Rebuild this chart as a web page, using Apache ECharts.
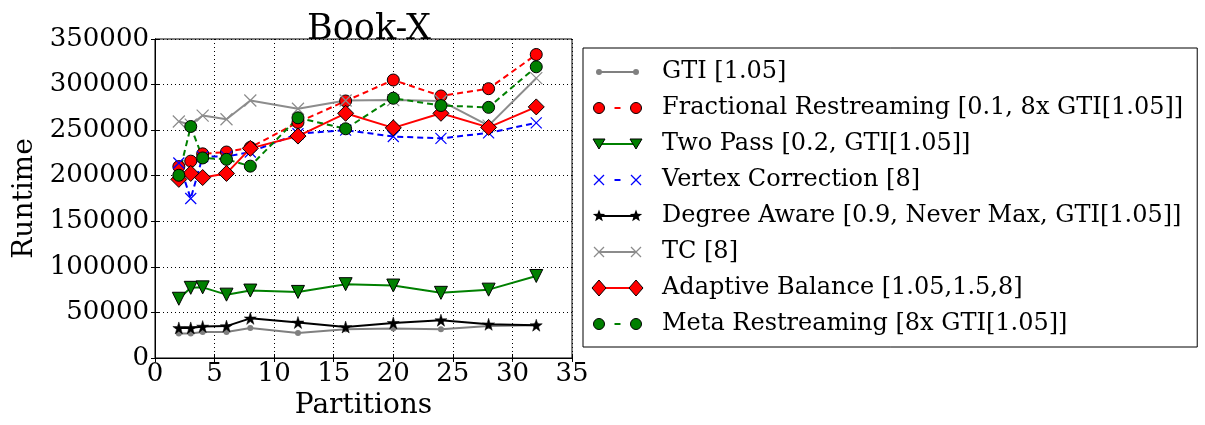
<!DOCTYPE html>
<html>
<head>
<meta charset="utf-8">
<script src="https://cdn.jsdelivr.net/npm/echarts@6/dist/echarts.min.js"></script>
<style>html,body{margin:0;padding:0;background:#fff}#c{width:1205px;height:425px}</style>
</head>
<body>
<div id="c"></div>
<script>
const partitions = [2, 3, 4, 6, 8, 12, 16, 20, 24, 28, 32];
const gti = [27000, 27000, 28500, 28500, 33000, 27500, 31500, 32500, 31500, 35000, 36000];
const fractional = [210000, 216000, 224000, 226000, 231000, 258500, 282000, 305000, 287500, 295500, 333000];
const twoPass = [65000, 77000, 77500, 69500, 74000, 72500, 81000, 79500, 71500, 75000, 90000];
const vertexCorr = [214000, 175000, 221000, 221000, 226000, 246000, 250000, 243000, 241000, 247000, 258000];
const degreeAware = [33000, 33000, 34500, 35000, 43500, 39000, 34000, 38500, 41500, 37000, 36000];
const tc = [259500, 256000, 266000, 262000, 282500, 273500, 282500, 283000, 282000, 255000, 307000];
const adaptive = [196000, 202500, 198000, 202500, 230000, 243500, 268500, 252500, 268500, 253000, 275500];
const meta = [200500, 254000, 219500, 218000, 210500, 263500, 251500, 285000, 277000, 275000, 319500];
const names = [
  'GTI [1.05]',
  'Fractional Restreaming [0.1, 8x GTI[1.05]]',
  'Two Pass [0.2, GTI[1.05]]',
  'Vertex Correction [8]',
  'Degree Aware [0.9, Never Max, GTI[1.05]]',
  'TC [8]',
  'Adaptive Balance [1.05,1.5,8]',
  'Meta Restreaming [8x GTI[1.05]]'
];

const FONT = '"DejaVu Serif", serif';
const STAR = 'path://M50,0L61,35L98,35L68,57L79,91L50,70L21,91L32,57L2,35L39,35Z';
const XMARK = 'path://M0,0L10,10M0,10L10,0';
const TRI = 'path://M0,0L10,0L5,9Z';
const pts = arr => partitions.map((p, i) => [p, arr[i]]);

// style table: [color, kind, plotSize, dashed]
const styles = [
  ['#808080', 'dot', 6, false],
  ['#ff0000', 'circle', 12, true],
  ['#008000', 'tri', 13, false],
  ['#0000ff', 'x', 11, true],
  ['#000000', 'star', 12, false],
  ['#8c8c8c', 'x', 12, false],
  ['#ff0000', 'diamond', 16, false],
  ['#008000', 'circle', 12, true]
];
const dataArrays = [gti, fractional, twoPass, vertexCorr, degreeAware, tc, adaptive, meta];

function seriesFor(i) {
  const [color, kind, size, dashed] = styles[i];
  let symbol = 'circle', border = '#000', bw = 1;
  if (kind === 'dot') { border = color; bw = 0; }
  if (kind === 'tri') symbol = TRI;
  if (kind === 'x') { symbol = XMARK; border = color; bw = 1.2; }
  if (kind === 'star') { symbol = STAR; bw = 0.5; }
  if (kind === 'diamond') symbol = 'diamond';
  return {
    name: names[i], type: 'line', data: pts(dataArrays[i]),
    symbol: symbol, symbolSize: size, showSymbol: true,
    lineStyle: {color: color, width: 2, type: dashed ? [6, 4] : 'solid'},
    itemStyle: {color: color, borderColor: border, borderWidth: bw},
    emphasis: {disabled: true},
    animation: false
  };
}

// legend handle drawings (matplotlib-style: two markers joined by a line)
function markerGraphics(kind, color, cx, cy) {
  const edge = {stroke: '#000', lineWidth: 1};
  if (kind === 'dot') return [{type: 'circle', shape: {cx, cy, r: 3}, style: {fill: color}}];
  if (kind === 'circle') return [{type: 'circle', shape: {cx, cy, r: 5.5}, style: Object.assign({fill: color}, edge)}];
  if (kind === 'tri') return [{type: 'polygon', shape: {points: [[cx - 6, cy - 5], [cx + 6, cy - 5], [cx, cy + 5]]}, style: Object.assign({fill: color}, edge)}];
  if (kind === 'diamond') return [{type: 'polygon', shape: {points: [[cx, cy - 8], [cx + 7, cy], [cx, cy + 8], [cx - 7, cy]]}, style: Object.assign({fill: color}, edge)}];
  if (kind === 'star') {
    const p = [];
    for (let k = 0; k < 10; k++) {
      const r = k % 2 === 0 ? 6.5 : 2.7;
      const a = -Math.PI / 2 + k * Math.PI / 5;
      p.push([cx + r * Math.cos(a), cy + r * Math.sin(a)]);
    }
    return [{type: 'polygon', shape: {points: p}, style: {fill: color}}];
  }
  if (kind === 'x') return [
    {type: 'line', shape: {x1: cx - 5, y1: cy - 5, x2: cx + 5, y2: cy + 5}, style: {stroke: color, lineWidth: 1.2}},
    {type: 'line', shape: {x1: cx - 5, y1: cy + 5, x2: cx + 5, y2: cy - 5}, style: {stroke: color, lineWidth: 1.2}}
  ];
}
const legendGraphics = [];
styles.forEach(([color, kind, size, dashed], i) => {
  const cy = 72 + 36 * i, x1 = 599, x2 = 636;
  const ln = dashed
    ? {type: 'line', shape: {x1: 614.5, y1: cy, x2: 620.5, y2: cy}, style: {stroke: color, lineWidth: 2}}
    : {type: 'line', shape: {x1: x1, y1: cy, x2: x2, y2: cy}, style: {stroke: color, lineWidth: 2}};
  legendGraphics.push(Object.assign(ln, {z: 100}));
  markerGraphics(kind, color, x1, cy).concat(markerGraphics(kind, color, x2, cy))
    .forEach(g => legendGraphics.push(Object.assign(g, {z: 101})));
});

const chart = echarts.init(document.getElementById('c'));
const axisCommon = {
  axisLine: {show: true, lineStyle: {color: '#000', width: 1}},
  axisTick: {show: true, inside: true, length: 4, lineStyle: {color: '#000'}},
  splitLine: {show: false}
};
chart.setOption({
  backgroundColor: '#fff',
  animation: false,
  title: {
    text: 'Book-X', left: 364, top: 7, textAlign: 'center',
    textStyle: {fontFamily: FONT, fontSize: 35, fontWeight: 'normal', color: '#000'}
  },
  legend: {
    orient: 'vertical', left: 583, top: 48,
    padding: [12, 14, 11, 8],
    icon: 'rect',
    itemWidth: 56, itemHeight: 20, itemGap: 12,
    itemStyle: {color: 'rgba(0,0,0,0)', borderColor: 'rgba(0,0,0,0)', borderWidth: 0, opacity: 0},
    borderColor: '#000', borderWidth: 1, backgroundColor: '#fff',
    textStyle: {fontFamily: FONT, fontSize: 24, color: '#000', lineHeight: 24, padding: [0, 0, 0, 10]},
    data: names,
    selectedMode: false
  },
  graphic: legendGraphics,
  grid: {left: 155, right: 633, top: 39, bottom: 65, show: true, borderColor: '#000', borderWidth: 1},
  xAxis: [
    Object.assign({}, axisCommon, {
      type: 'value', min: 0, max: 35, interval: 5,
      name: 'Partitions', nameLocation: 'middle', nameGap: 34,
      nameTextStyle: {fontFamily: FONT, fontSize: 28, color: '#000'},
      axisLabel: {fontFamily: FONT, fontSize: 26, color: '#000', margin: 3},
      splitLine: {show: true, lineStyle: {color: '#000', type: [1, 3], width: 1}}
    }),
    Object.assign({}, axisCommon, {
      type: 'value', min: 0, max: 35, interval: 5, position: 'top',
      axisLabel: {show: false}
    })
  ],
  yAxis: [
    Object.assign({}, axisCommon, {
      type: 'value', min: 0, max: 350000, interval: 50000,
      name: 'Runtime', nameLocation: 'middle', nameGap: 116,
      nameTextStyle: {fontFamily: FONT, fontSize: 28, color: '#000'},
      axisLabel: {fontFamily: FONT, fontSize: 26, color: '#000', margin: 6, formatter: v => String(v)},
      splitLine: {show: true, lineStyle: {color: '#000', type: [1, 3], width: 1}}
    }),
    Object.assign({}, axisCommon, {
      type: 'value', min: 0, max: 350000, interval: 50000, position: 'right',
      axisLabel: {show: false}
    })
  ],
  series: styles.map((s, i) => seriesFor(i))
});
</script>
</body>
</html>
